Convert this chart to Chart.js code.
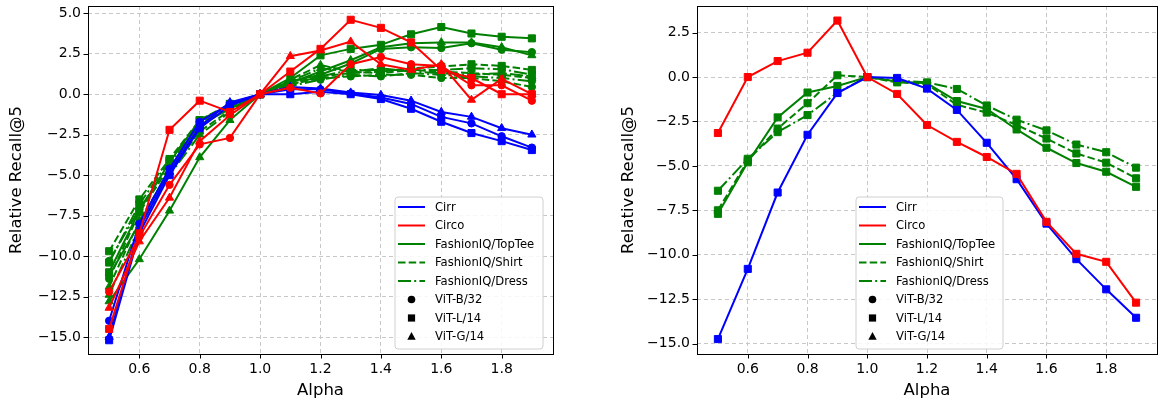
<!DOCTYPE html>
<html>
<head>
<meta charset="utf-8">
<script src="https://cdn.jsdelivr.net/npm/chart.js@4"></script>
<style>
  html, body { margin: 0; padding: 0; background: #ffffff; }
  #wrap { position: relative; width: 1163px; height: 406px; overflow: hidden; }
  canvas { position: absolute; top: 0; }
  #c1 { left: 0px; }
  #c2 { left: 580px; }
</style>
</head>
<body>
<div id="wrap">
  <canvas id="c1" width="570" height="406"></canvas>
  <canvas id="c2" width="583" height="406"></canvas>
</div>
<script>
// ---------- data ----------
const alphas = [0.5, 0.6, 0.7, 0.8, 0.9, 1.0, 1.1, 1.2, 1.3, 1.4, 1.5, 1.6, 1.7, 1.8, 1.9];
const xTicks = [0.6, 0.8, 1.0, 1.2, 1.4, 1.6, 1.8];
const yTicksLeft = [-15, -12.5, -10, -7.5, -5, -2.5, 0, 2.5, 5];
const yTicksRight = [-15, -12.5, -10, -7.5, -5, -2.5, 0, 2.5];

// Left panel: three backbones per dataset
const cirrB32 = [-14.0, -8.0, -4.6, -1.7, -0.6, 0, 0.3, 0.3, 0.05, -0.2, -0.6, -1.4, -1.8, -2.6, -3.3];
const cirrL14 = [-15.2, -8.6, -5.0, -2.1, -0.7, 0, 0.0, 0.15, 0.0, -0.3, -0.9, -1.7, -2.4, -2.9, -3.45];
const cirrG14 = [-15.0, -8.3, -4.8, -2.0, -0.5, 0, 0.45, 0.35, 0.1, -0.05, -0.4, -1.1, -1.4, -2.1, -2.5];
const circoB32 = [-12.2, -8.8, -5.6, -3.1, -2.7, 0, 0.4, 0.05, 1.85, 2.3, 1.85, 1.75, 0.55, 0.55, -0.4];
const circoL14 = [-14.5, -8.6, -2.2, -0.4, -1.1, 0, 1.4, 2.8, 4.6, 4.1, 3.2, 1.5, 1.0, 0.0, 0.0];
const circoG14 = [-13.2, -9.1, -6.4, -2.9, -1.3, 0, 2.35, 2.7, 3.25, 1.85, 1.5, 1.85, -0.35, 0.95, 0.0];
const topteeB32 = [-11.2, -8.0, -4.6, -1.9, -0.9, 0, 0.8, 1.2, 1.9, 2.8, 2.9, 2.85, 3.15, 2.75, 2.6];
const topteeL14 = [-11.0, -7.2, -4.2, -1.6, -0.7, 0, 1.0, 2.4, 2.8, 3.05, 3.7, 4.15, 3.75, 3.55, 3.45];
const topteeG14 = [-12.8, -10.2, -7.2, -3.9, -1.6, 0, 0.7, 1.4, 2.1, 2.9, 3.15, 3.2, 3.2, 2.9, 2.4];
const shirtB32 = [-11.4, -7.3, -4.5, -2.0, -0.8, 0, 0.6, 1.0, 1.1, 1.2, 1.2, 1.0, 1.0, 0.8, 0.45];
const shirtL14 = [-9.7, -6.5, -4.0, -1.6, -0.6, 0, 0.7, 1.1, 1.3, 1.4, 1.6, 1.7, 1.85, 1.75, 1.5];
const shirtG14 = [-11.9, -7.8, -4.8, -2.3, -1.0, 0, 0.9, 1.8, 1.4, 1.3, 1.5, 1.4, 1.3, 1.2, 1.0];
const dressB32 = [-10.3, -7.1, -4.3, -1.8, -0.8, 0, 0.5, 0.9, 1.2, 1.1, 1.3, 1.2, 1.1, 1.0, 0.8];
const dressL14 = [-10.4, -6.8, -4.1, -1.7, -0.6, 0, 0.6, 1.1, 1.5, 1.5, 1.5, 1.5, 1.6, 1.55, 1.2];
const dressG14 = [-12.4, -8.2, -5.0, -2.5, -1.1, 0, 0.8, 1.6, 1.4, 1.6, 1.4, 1.3, 1.2, 1.3, 1.1];

// Right panel: one series per dataset (square markers)
const cirrRight = [-14.75, -10.8, -6.5, -3.25, -0.9, 0, -0.05, -0.65, -1.85, -3.7, -5.75, -8.25, -10.25, -11.95, -13.55];
const circoRight = [-3.15, 0.0, 0.9, 1.37, 3.18, 0, -0.95, -2.7, -3.65, -4.5, -5.45, -8.15, -9.95, -10.4, -12.7];
const topteeRight = [-7.7, -4.8, -2.27, -0.87, -0.5, 0, -0.25, -0.35, -1.35, -1.8, -2.95, -3.98, -4.84, -5.33, -6.18];
const shirtRight = [-7.5, -4.7, -2.9, -1.47, 0.1, 0, -0.3, -0.4, -1.56, -2.0, -2.7, -3.46, -4.3, -4.82, -5.7];
const dressRight = [-6.4, -4.6, -3.1, -2.14, -0.88, 0, -0.2, -0.3, -0.67, -1.6, -2.4, -3.0, -3.8, -4.23, -5.1];

// ---------- styles ----------
const BLUE = '#0000ff', RED = '#ff0000', GREEN = '#008000';
const DASH_SOLID = [];
const DASH_DASHED = [7.5, 3.2];
const DASH_DASHDOT = [13, 3.2, 2, 3.2];
const MARK = {
  circle: { pointStyle: 'circle', pointRadius: 3.7 },
  rect: { pointStyle: 'rect', pointRadius: 5 },
  triangle: { pointStyle: 'triangle', pointRadius: 4.7 }
};

function ds(label, values, color, dash, marker, order) {
  return {
    label: label,
    data: alphas.map((a, i) => ({ x: a, y: values[i] })),
    borderColor: color,
    backgroundColor: color,
    pointBackgroundColor: color,
    pointBorderColor: color,
    pointBorderWidth: 1,
    borderWidth: 2,
    borderDash: dash,
    pointStyle: MARK[marker].pointStyle,
    pointRadius: MARK[marker].pointRadius,
    pointHoverRadius: MARK[marker].pointRadius,
    tension: 0,
    fill: false,
    order: order
  };
}

const leftSets = [
  ds('Cirr ViT-B/32', cirrB32, BLUE, DASH_SOLID, 'circle', 2),
  ds('Cirr ViT-L/14', cirrL14, BLUE, DASH_SOLID, 'rect', 2),
  ds('Cirr ViT-G/14', cirrG14, BLUE, DASH_SOLID, 'triangle', 2),
  ds('Circo ViT-B/32', circoB32, RED, DASH_SOLID, 'circle', 1),
  ds('Circo ViT-L/14', circoL14, RED, DASH_SOLID, 'rect', 1),
  ds('Circo ViT-G/14', circoG14, RED, DASH_SOLID, 'triangle', 1),
  ds('TopTee ViT-B/32', topteeB32, GREEN, DASH_SOLID, 'circle', 3),
  ds('TopTee ViT-L/14', topteeL14, GREEN, DASH_SOLID, 'rect', 3),
  ds('TopTee ViT-G/14', topteeG14, GREEN, DASH_SOLID, 'triangle', 3),
  ds('Shirt ViT-B/32', shirtB32, GREEN, DASH_DASHED, 'circle', 4),
  ds('Shirt ViT-L/14', shirtL14, GREEN, DASH_DASHED, 'rect', 4),
  ds('Shirt ViT-G/14', shirtG14, GREEN, DASH_DASHED, 'triangle', 4),
  ds('Dress ViT-B/32', dressB32, GREEN, DASH_DASHDOT, 'circle', 5),
  ds('Dress ViT-L/14', dressL14, GREEN, DASH_DASHDOT, 'rect', 5),
  ds('Dress ViT-G/14', dressG14, GREEN, DASH_DASHDOT, 'triangle', 5)
];
const rightSets = [
  ds('Cirr', cirrRight, BLUE, DASH_SOLID, 'rect', 2),
  ds('Circo', circoRight, RED, DASH_SOLID, 'rect', 1),
  ds('FashionIQ/TopTee', topteeRight, GREEN, DASH_SOLID, 'rect', 3),
  ds('FashionIQ/Shirt', shirtRight, GREEN, DASH_DASHED, 'rect', 4),
  ds('FashionIQ/Dress', dressRight, GREEN, DASH_DASHDOT, 'rect', 5)
];

const legendEntries = [
  { text: 'Cirr', kind: 'line', color: BLUE, dash: DASH_SOLID },
  { text: 'Circo', kind: 'line', color: RED, dash: DASH_SOLID },
  { text: 'FashionIQ/TopTee', kind: 'line', color: GREEN, dash: DASH_SOLID },
  { text: 'FashionIQ/Shirt', kind: 'line', color: GREEN, dash: DASH_DASHED },
  { text: 'FashionIQ/Dress', kind: 'line', color: GREEN, dash: DASH_DASHDOT },
  { text: 'ViT-B/32', kind: 'circle' },
  { text: 'ViT-L/14', kind: 'rect' },
  { text: 'ViT-G/14', kind: 'triangle' }
];

const FONT = "'DejaVu Sans', sans-serif";

// frame, tick marks and legend drawn with the library's scales
const decorPlugin = {
  id: 'decor',
  afterDatasetsDraw(chart, args, opts) {
    const ctx = chart.ctx;
    const a = chart.chartArea;
    ctx.save();
    // spines
    ctx.strokeStyle = '#000000';
    ctx.lineWidth = 1;
    ctx.setLineDash([]);
    ctx.strokeRect(Math.round(a.left) + 0.5, Math.round(a.top) + 0.5,
                   Math.round(a.right - a.left), Math.round(a.bottom - a.top));
    // tick marks
    const xs = chart.scales.x, ys = chart.scales.y;
    ctx.beginPath();
    xs.ticks.forEach(t => {
      const px = Math.round(xs.getPixelForValue(t.value)) + 0.5;
      ctx.moveTo(px, a.bottom); ctx.lineTo(px, a.bottom + 4.5);
    });
    ys.ticks.forEach(t => {
      const py = Math.round(ys.getPixelForValue(t.value)) + 0.5;
      ctx.moveTo(a.left, py); ctx.lineTo(a.left - 4.5, py);
    });
    ctx.stroke();

    // legend
    const L = opts.legend;
    ctx.fillStyle = 'rgba(255,255,255,0.85)';
    ctx.strokeStyle = '#d0d0d0';
    ctx.lineWidth = 1;
    const r = 3;
    ctx.beginPath();
    ctx.moveTo(L.x + r, L.y);
    ctx.lineTo(L.x + L.w - r, L.y);
    ctx.arcTo(L.x + L.w, L.y, L.x + L.w, L.y + r, r);
    ctx.lineTo(L.x + L.w, L.y + L.h - r);
    ctx.arcTo(L.x + L.w, L.y + L.h, L.x + L.w - r, L.y + L.h, r);
    ctx.lineTo(L.x + r, L.y + L.h);
    ctx.arcTo(L.x, L.y + L.h, L.x, L.y + L.h - r, r);
    ctx.lineTo(L.x, L.y + r);
    ctx.arcTo(L.x, L.y, L.x + r, L.y, r);
    ctx.closePath();
    ctx.fill();
    ctx.stroke();

    ctx.font = '11.6px ' + FONT;
    ctx.textBaseline = 'middle';
    ctx.textAlign = 'left';
    legendEntries.forEach((e, i) => {
      const cy = L.y + L.row0 + i * L.step;
      const x0 = L.x + 3, x1 = L.x + 30, xc = (x0 + x1) / 2;
      if (e.kind === 'line') {
        ctx.strokeStyle = e.color;
        ctx.lineWidth = 2;
        ctx.setLineDash(e.dash);
        ctx.beginPath();
        ctx.moveTo(x0, cy); ctx.lineTo(x1, cy);
        ctx.stroke();
        ctx.setLineDash([]);
      } else {
        ctx.fillStyle = '#000000';
        ctx.beginPath();
        if (e.kind === 'circle') {
          ctx.arc(xc, cy, 3.8, 0, Math.PI * 2);
        } else if (e.kind === 'rect') {
          ctx.rect(xc - 3.6, cy - 3.6, 7.2, 7.2);
        } else {
          ctx.moveTo(xc, cy - 4.4);
          ctx.lineTo(xc + 4.2, cy + 3.2);
          ctx.lineTo(xc - 4.2, cy + 3.2);
          ctx.closePath();
        }
        ctx.fill();
      }
      ctx.fillStyle = '#000000';
      ctx.fillText(e.text, L.x + 40, cy + 0.5);
    });
    ctx.restore();
  }
};

function fmt(v) {
  return v.toFixed(1).replace('-', '\u2212');
}

function makeChart(id, sets, yMin, yMax, yTicks, yWidth, yTitlePad, padRight, legend) {
  return new Chart(document.getElementById(id), {
    type: 'line',
    data: { datasets: sets },
    options: {
      responsive: false,
      animation: false,
      events: [],
      layout: { padding: { top: 0, right: padRight, bottom: 0, left: 0 } },
      plugins: {
        legend: { display: false },
        tooltip: { enabled: false },
        decor: { legend: legend }
      },
      scales: {
        x: {
          type: 'linear',
          min: 0.43,
          max: 1.97,
          afterBuildTicks: s => { s.ticks = xTicks.map(v => ({ value: v })); },
          afterFit: s => { s.height = 52; s.paddingLeft = 0; s.paddingRight = 0; },
          grid: { color: '#c8c8c8', lineWidth: 1, drawTicks: false },
          border: { display: false, dash: [4, 3] },
          ticks: {
            padding: 7,
            color: '#000000',
            font: { family: FONT, size: 14 },
            maxRotation: 0,
            callback: v => fmt(v)
          },
          title: {
            display: true,
            text: 'Alpha',
            color: '#000000',
            font: { family: FONT, size: 16.5 },
            padding: { top: 0, bottom: 5 }
          }
        },
        y: {
          type: 'linear',
          min: yMin,
          max: yMax,
          afterBuildTicks: s => { s.ticks = yTicks.map(v => ({ value: v })); },
          afterFit: s => { s.width = yWidth; s.paddingTop = 0; s.paddingBottom = 0; },
          grid: { color: '#c8c8c8', lineWidth: 1, drawTicks: false },
          border: { display: false, dash: [4, 3] },
          ticks: {
            padding: 7,
            color: '#000000',
            font: { family: FONT, size: 14 },
            callback: v => fmt(v)
          },
          title: {
            display: true,
            text: 'Relative Recall@5',
            color: '#000000',
            font: { family: FONT, size: 16.5 },
            padding: { top: yTitlePad, bottom: 0 }
          }
        }
      }
    },
    plugins: [decorPlugin]
  });
}

makeChart('c1', leftSets, -16.05, 5.45, yTicksLeft, 88, 7, 17,
  { x: 395, y: 197, w: 148, h: 152, row0: 10, step: 18.5 });
makeChart('c2', rightSets, -15.59, 4.0, yTicksRight, 117, 39, 1,
  { x: 276, y: 197, w: 147, h: 152, row0: 10, step: 18.5 });
</script>
</body>
</html>
